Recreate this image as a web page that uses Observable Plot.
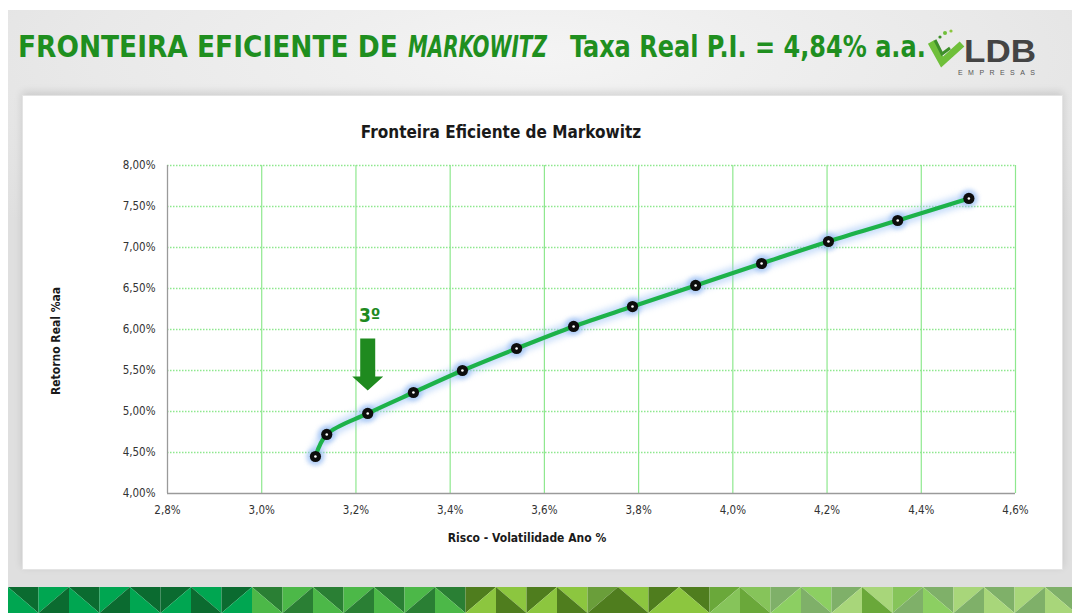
<!DOCTYPE html>
<html>
<head>
<meta charset="utf-8">
<script src="https://cdn.jsdelivr.net/npm/d3@7"></script>
<script src="https://cdn.jsdelivr.net/npm/@observablehq/plot@0.6"></script>
<style>
  html, body { margin: 0; padding: 0; background: #ffffff; }
  #page { position: relative; width: 1072px; height: 613px; overflow: hidden; background: #ffffff;
    font-family: "Liberation Sans Narrow", "DejaVu Sans Condensed", "Open Sans", sans-serif; }
  #slide { position: absolute; left: 8px; top: 10px; width: 1064px; height: 577px;
    background: radial-gradient(ellipse 70% 40% at 50% 8%, #f4f4f4 0%, #e9e9e9 60%, #dfdfdf 100%); }
  #panel { position: absolute; left: 22px; top: 95px; width: 1041px; height: 475px; background: #ffffff;
    box-shadow: 0 -3px 8px rgba(0,0,0,0.12); border: 1px solid #e4e4e4; box-sizing: border-box; }
  #header { position: absolute; left: 0; top: 0; }
  .lbl { position: absolute; color: #1a1a1a; font-weight: bold; white-space: nowrap; }
  #chart { position: absolute; left: 0; top: 0; }
  #band { position: absolute; left: 8px; top: 587px; }
</style>
</head>
<body>
<div id="page">
  <div id="slide"></div>
  <div id="panel"></div>
  <svg id="header" width="1072" height="95">
    <g fill="#1f8f1f" font-weight="bold" font-size="31" font-family="Liberation Sans Narrow, DejaVu Sans Condensed, Open Sans, sans-serif">
      <text class="fit" x="18" y="57" data-w="380">FRONTEIRA EFICIENTE DE</text>
      <text class="fit" x="408" y="57" data-w="139" font-style="italic">MARKOWITZ</text>
      <text class="fit" x="570" y="57" data-w="356">Taxa Real P.I. = 4,84% a.a.</text>
    </g>
    <polyline points="931,42 942,62 962,44" fill="none" stroke="#6fbf3a" stroke-width="7" stroke-linejoin="miter"/>
    <polyline points="935,40 942,54 950,48" fill="none" stroke="#3e8f2a" stroke-width="3"/>
    <circle cx="945" cy="33" r="2" fill="#6fbf3a"/><circle cx="951" cy="31" r="1.6" fill="#8cc63f"/><circle cx="940" cy="37" r="1.6" fill="#3e8f2a"/>
    <text class="fit" x="964" y="62" data-w="72" fill="#444" font-weight="bold" font-size="32"
      font-family="Liberation Sans, Arial, sans-serif">LDB</text>
    <text x="958" y="75" fill="#555" font-size="7" textLength="77" lengthAdjust="spacing"
      font-family="Liberation Sans, Arial, sans-serif">EMPRESAS</text>
  </svg>
  <div class="lbl" style="left:0;width:1002px;top:122px;text-align:center;font-size:17px;">Fronteira Eficiente de Markowitz</div>
  <div class="lbl" style="left:0;width:1054px;top:531px;text-align:center;font-size:12px;">Risco - Volatilidade Ano %</div>
  <div class="lbl" style="left:56px;top:341px;font-size:12px;transform:translate(-50%,-50%) rotate(-90deg);">Retorno Real %aa</div>
  <div id="chart"></div>
  <svg id="band" width="1064" height="26"></svg>
</div>
<script>
// ---- data ----
const risco   = [3.114, 3.138, 3.225, 3.322, 3.426, 3.541, 3.662, 3.787, 3.921, 4.061, 4.203, 4.350, 4.501];
const retorno = [4.451, 4.720, 4.976, 5.232, 5.500, 5.768, 6.037, 6.280, 6.537, 6.805, 7.073, 7.329, 7.598];
const xTicks = [2.8, 3.0, 3.2, 3.4, 3.6, 3.8, 4.0, 4.2, 4.4, 4.6];
const yTicks = [4.0, 4.5, 5.0, 5.5, 6.0, 6.5, 7.0, 7.5, 8.0];
const destaqueIndex = 2;          // 3º ponto
const destaqueLabel = "3º";

const pts = risco.map((x, i) => ({x, y: retorno[i]}));
const destaque = [pts[destaqueIndex]];

// fit header texts horizontally to their target widths
function fitTexts() {
  document.querySelectorAll("text.fit").forEach(t => {
    t.removeAttribute("transform");
    const w = t.getComputedTextLength();
    const target = +t.getAttribute("data-w");
    const x = +t.getAttribute("x");
    if (w > 0) {
      const s = target / w;
      t.setAttribute("transform", `translate(${x},0) scale(${s},1) translate(${-x},0)`);
    }
  });
}
fitTexts();
if (document.fonts && document.fonts.ready) document.fonts.ready.then(fitTexts);

const arrowSymbol = {
  draw(ctx) {
    ctx.moveTo(-7.5, -52);
    ctx.lineTo(7.5, -52);
    ctx.lineTo(7.5, -14);
    ctx.lineTo(15.5, -14);
    ctx.lineTo(0, 0);
    ctx.lineTo(-15.5, -14);
    ctx.lineTo(-7.5, -14);
    ctx.closePath();
  }
};

const fmtY = d => d.toFixed(2).replace(".", ",") + "%";
const fmtX = d => d.toFixed(1).replace(".", ",") + "%";

const chart = Plot.plot({
  width: 1072,
  height: 613,
  marginLeft: 167,
  marginRight: 57,
  marginTop: 165,
  marginBottom: 120,
  style: {background: "transparent", fontSize: "11.5px", color: "#333",
          fontFamily: '"Liberation Sans Narrow", "DejaVu Sans Condensed", "Open Sans", sans-serif'},
  x: {domain: [2.8, 4.6]},
  y: {domain: [4, 8]},
  marks: [
    Plot.ruleX(xTicks.filter(d => d !== 2.8), {stroke: "#8ee88e", strokeWidth: 1.2}),
    Plot.ruleY(yTicks.filter(d => d !== 4), {stroke: "#8ee88e", strokeWidth: 1.4, strokeDasharray: "1.5,1.5"}),
    Plot.ruleX([2.8], {stroke: "#9a9a9a", strokeWidth: 1.3}),
    Plot.ruleY([4], {stroke: "#9a9a9a", strokeWidth: 1.3}),
    Plot.axisX({ticks: xTicks, tickSize: 0, tickPadding: 12, tickFormat: fmtX, label: null}),
    Plot.axisY({ticks: yTicks, tickSize: 0, tickPadding: 12, tickFormat: fmtY, label: null}),
    Plot.line(pts, {x: "x", y: "y", stroke: "#9cc2f5", strokeWidth: 12, strokeOpacity: 0.55, curve: "catmull-rom", imageFilter: "blur(3px)"}),
    Plot.dot(pts, {x: "x", y: "y", r: 9, fill: "#8fb8f2", fillOpacity: 0.6, imageFilter: "blur(2px)"}),
    Plot.line(pts, {x: "x", y: "y", stroke: "#1db24a", strokeWidth: 4.2, curve: "catmull-rom"}),
    Plot.dot(pts, {x: "x", y: "y", r: 5.6, fill: "#0d0d0d"}),
    Plot.dot(pts, {x: "x", y: "y", r: 1.3, fill: "#ffffff"}),
    Plot.dot(destaque, {x: "x", y: "y", symbol: arrowSymbol, fill: "#1f8a1f", dy: -23}),
    Plot.text(destaque, {x: "x", y: "y", text: () => destaqueLabel, dy: -98, dx: 2, fontSize: 19, fontWeight: "bold", fill: "#1f8a1f"})
  ]
});
document.getElementById("chart").appendChild(chart);

// ---- decorative triangle band ----
const bandColors = [
  ["#0b6b30","#00a651"],["#00a651","#0b6b30"],["#0b6b30","#00a651"],["#00a651","#0b6b30"],
  ["#0b6b30","#00a651"],["#0b6b30","#00a651"],["#00a651","#0b6b30"],["#0b6b30","#00a651"],
  ["#2a7f34","#4cb848"],["#4cb848","#2a7f34"],["#2a7f34","#4cb848"],["#4cb848","#2a7f34"],
  ["#2a7f34","#4cb848"],["#4cb848","#2a7f34"],["#2a7f34","#4cb848"],["#4f7d1e","#8cc63f"],
  ["#8cc63f","#4f7d1e"],["#4f7d1e","#8cc63f"],["#8cc63f","#4f7d1e"],["#6a9e3a","#4f7d1e"],
  ["#8cc63f","#4f7d1e"],["#4f7d1e","#8cc63f"],["#4f7d1e","#8cc63f"],["#6aa83a","#86c45a"],
  ["#86c45a","#6aa83a"],["#7fb069","#8ccf62"],["#8ccf62","#7fb069"],["#7fb069","#a8d67a"],
  ["#a8d67a","#6aa83a"],["#86c45a","#7fb069"],["#7fb069","#8ccf62"],["#a8d67a","#7fb069"],
  ["#7fb069","#a8d67a"],["#a8d67a","#7fb069"],["#7fb069","#a8d67a"]
];
const band = d3.select("#band");
const cw = 30.5, ch = 26;
bandColors.forEach((c, i) => {
  const x0 = i * cw, x1 = x0 + cw;
  const down = i % 2 === 0;
  const a = down ? `${x0},0 ${x1},0 ${x1},${ch}` : `${x0},0 ${x1},0 ${x0},${ch}`;
  const b = down ? `${x0},0 ${x0},${ch} ${x1},${ch}` : `${x1},0 ${x1},${ch} ${x0},${ch}`;
  band.append("polygon").attr("points", a).attr("fill", c[0]);
  band.append("polygon").attr("points", b).attr("fill", c[1]);
});
</script>
</body>
</html>
